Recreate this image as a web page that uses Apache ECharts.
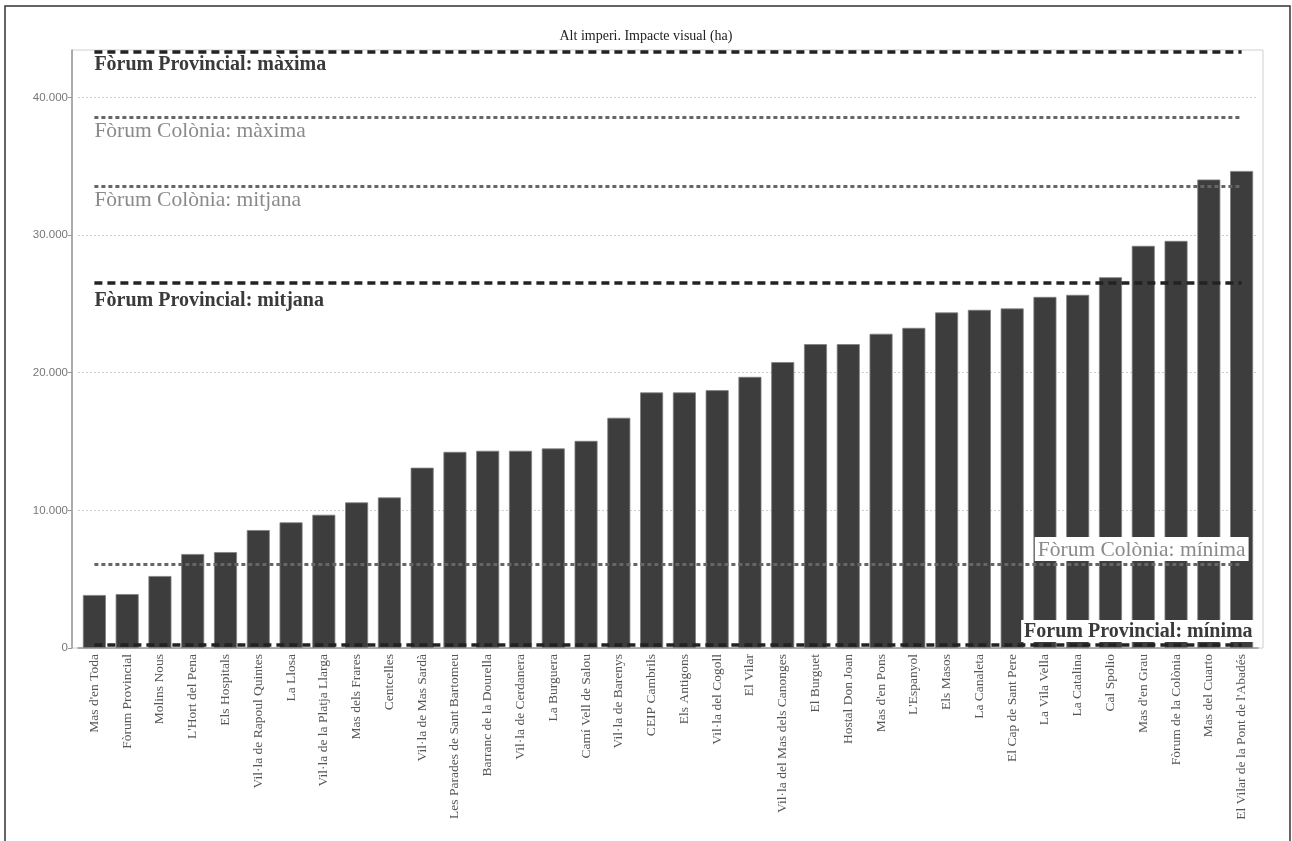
<!DOCTYPE html>
<html>
<head>
<meta charset="utf-8">
<script src="https://cdn.jsdelivr.net/npm/echarts@6/dist/echarts.min.js"></script>
<style>
  html, body { margin: 0; padding: 0; background: #fff; }
  #main { width: 1292px; height: 841px; }
</style>
</head>
<body>
<div id="main"></div>
<script>
// jaciments, ordenats per superficie visible
const categories = [
  "Mas d'en Toda", 'Fòrum Provincial', 'Molins Nous', "L'Hort del Pena", 'Els Hospitals',
  'Vil·la de Rapoul Quintes', 'La Llosa', 'Vil·la de la Platja Llarga', 'Mas dels Frares', 'Centcelles',
  'Vil·la de Mas Sardà', 'Les Parades de Sant Bartomeu', 'Barranc de la Dourella', 'Vil·la de Cerdanera', 'La Burguera',
  'Camí Vell de Salou', 'Vil·la de Barenys', 'CEIP Cambrils', 'Els Antigons', 'Vil·la del Cogoll',
  'El Vilar', 'Vil·la del Mas dels Canonges', 'El Burguet', 'Hostal Don Joan', "Mas d'en Pons",
  "L'Espanyol", 'Els Masos', 'La Canaleta', 'El Cap de Sant Pere', 'La Vila Vella',
  'La Catalina', 'Cal Spolio', "Mas d'en Grau", 'Fòrum de la Colònia', 'Mas del Cuarto',
  "El Vilar de la Pont de l'Abadés"
];

const impacte = [
  3850, 3920, 5230, 6830, 6970,
  8570, 9130, 9680, 10580, 10940,
  13100, 14250, 14330, 14330, 14500,
  15050, 16730, 18570, 18570, 18730,
  19700, 20770, 22080, 22080, 22830,
  23260, 24380, 24570, 24670, 25510,
  25660, 26940, 29220, 29580, 34040,
  34660
];

// valors de referencia dels fòrums
const refNames = [
  'Fòrum Provincial: màxima', 'Fòrum Colònia: màxima', 'Fòrum Colònia: mitjana',
  'Fòrum Provincial: mitjana', 'Fòrum Colònia: mínima', 'Forum Provincial: mínima'
];
const refValues = [43300, 38540, 33540, 26520, 6100, 220];

const yTicks = [0, 10000, 20000, 30000, 40000];

const serif = "'Liberation Serif', 'DejaVu Serif', serif";

function fmt(v) {
  return String(v).replace(/\B(?=(\d{3})+(?!\d))/g, '.');
}

function refLine(i) {
  const provincial = refNames[i].indexOf('Provincial') >= 0;
  const atEnd = i >= 4;
  let dist = 3;
  if (i === 3) dist = 8;
  let off = [0, 0];
  if (i === 4) off = [7, 0];
  if (i === 5) off = [14, 0];
  return [
    {
      coord: [0, refValues[i]],
      lineStyle: provincial
        ? { color: '#222', width: 3.5, type: [8, 5] }
        : { color: '#666', width: 3, type: [4, 3] },
      label: {
        show: true,
        formatter: refNames[i],
        position: atEnd ? 'insideEndTop' : 'insideStartBottom',
        distance: [0, dist],
        offset: off,
        fontFamily: serif,
        fontSize: provincial ? 20 : 21.5,
        fontWeight: provincial ? 'bold' : 'normal',
        color: provincial ? '#3a3a3a' : '#8a8a8a',
        backgroundColor: atEnd ? '#fff' : 'transparent',
        padding: atEnd ? [2, 3, 0, 3] : 0
      }
    },
    { coord: [categories.length - 1, refValues[i]] }
  ];
}

const chart = echarts.init(document.getElementById('main'));

chart.setOption({
  animation: false,
  backgroundColor: '#fff',
  title: {
    text: 'Alt imperi. Impacte visual (ha)',
    left: 'center',
    top: 24,
    textStyle: { fontFamily: serif, fontSize: 14, fontWeight: 'normal', color: '#222' }
  },
  graphic: [
    {
      type: 'rect',
      silent: true,
      shape: { x: 5, y: 6, width: 1285, height: 900 },
      style: { fill: 'none', stroke: '#333', lineWidth: 1.5 }
    },
    {
      type: 'rect',
      silent: true,
      shape: { x: 72, y: 50, width: 1191, height: 598 },
      style: { fill: 'none', stroke: '#d0d0d0', lineWidth: 1 }
    }
  ],
  grid: {
    left: 78,
    right: 34,
    top: 50,
    bottom: 193
  },
  xAxis: {
    type: 'category',
    data: categories,
    axisLine: { lineStyle: { color: '#999', width: 1.5 } },
    axisTick: { alignWithLabel: true, length: 4, lineStyle: { color: '#999' } },
    axisLabel: {
      interval: 0,
      rotate: 90,
      margin: 6,
      fontFamily: serif,
      fontSize: 13.5,
      color: '#555'
    }
  },
  yAxis: {
    type: 'value',
    min: 0,
    max: 43450,
    interval: 10000,
    offset: 6,
    axisLine: { show: true, lineStyle: { color: '#999', width: 1.5 } },
    axisTick: { show: true, length: 4, customValues: yTicks, lineStyle: { color: '#999' } },
    axisLabel: {
      fontFamily: "'Liberation Sans', Arial, sans-serif",
      fontSize: 11.5,
      color: '#777',
      margin: 4,
      customValues: yTicks,
      formatter: function (v) {
        return fmt(v);
      }
    },
    splitLine: { lineStyle: { color: '#cfcfcf', type: [2, 2], width: 1 } }
  },
  series: [
    {
      name: 'Impacte visual',
      type: 'bar',
      data: impacte,
      barWidth: 23,
      itemStyle: { color: '#3d3d3d', borderColor: '#808080', borderWidth: 0.8 },
      markLine: {
        silent: true,
        symbol: 'none',
        animation: false,
        data: refValues.map(function (v, i) { return refLine(i); })
      }
    }
  ]
});
</script>
</body>
</html>
